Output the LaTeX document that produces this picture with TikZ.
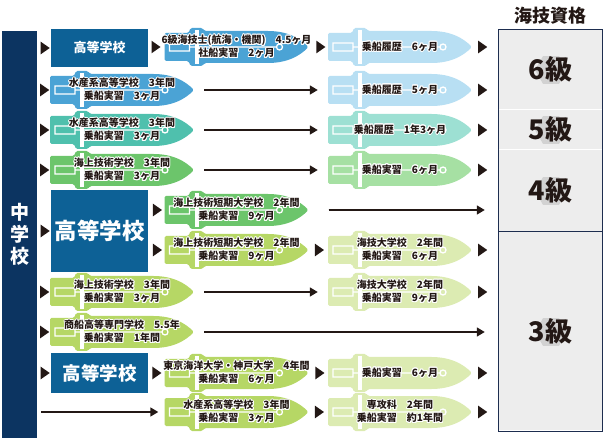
\documentclass[tikz,border=0pt]{standalone}
\usepackage{fontspec}
\setmainfont{Noto Sans CJK JP}
\usepackage[copies]{contour}
\usetikzlibrary{arrows.meta,shapes.geometric,backgrounds}

\contourlength{0.9pt}

\definecolor{ink}{HTML}{231815}
\definecolor{navy}{HTML}{0C3461}
\definecolor{schoolblue}{HTML}{0D6196}
\definecolor{frame}{HTML}{1D2D4F}
\definecolor{panel}{HTML}{EDEDED}
\definecolor{hexgray}{HTML}{D2D2D2}
\definecolor{sea}{HTML}{4BA3D5}
\definecolor{seaL}{HTML}{B8DFF3}
\definecolor{teal}{HTML}{4FC0AD}
\definecolor{tealL}{HTML}{9DE0D3}
\definecolor{grass}{HTML}{6CC56B}
\definecolor{grassL}{HTML}{A6E0A3}
\definecolor{lime}{HTML}{B6D765}
\definecolor{limeL}{HTML}{DCEBB2}

\newcommand{\hw}[1]{\contour{white}{#1}}

% hull behind, named text node on top
\newcommand{\ship}[4]{%
  \begin{scope}[shift={(#2)}]
    \fill[#3, rounded corners=1.5pt] (-72,-14) -- (-48,-14) -- (-46,-19) -- (-34,-19) -- (-32,-16) -- (30,-16)
      .. controls (52,-16) and (64,-8) .. (72,0)
      .. controls (64,8) and (52,16) .. (30,16) -- (-32,16) -- (-34,19) -- (-46,19) -- (-48,14) -- (-72,14) -- cycle;
    \draw[deck] (-67,-4) rectangle (-47,4) (-47,0) -- (40,0) (43,0) circle (3);
    \draw[white, line width=4pt] (-40,-17) -- (-40,17);
  \end{scope}
  \node[shiptext] (#1) at (#2) {#4};
}

\begin{document}
\begin{tikzpicture}[x=1pt, y=-1pt, >={Triangle[length=8pt,width=9pt]},
    flow/.style={->, draw=ink, fill=ink, line width=1.5pt},
    tri/.style={isosceles triangle, isosceles triangle apex angle=70, fill=ink, inner sep=0pt, minimum height=9pt},
    deck/.style={white, line width=1.3pt},
    shiptext/.style={minimum width=144pt, minimum height=32pt, inner sep=0pt, align=center, text=ink,
      font=\fontsize{10}{13}\selectfont\bfseries}]

    \tikzstyle{school}=[fill=schoolblue, text=white, minimum width=97pt, inner sep=0pt]
    \tikzstyle{grade}=[minimum width=103pt, inner sep=0pt, text=ink, font=\fontsize{27}{27}\selectfont\bfseries]
    \tikzstyle{hexa}=[regular polygon, regular polygon sides=6, minimum size=32pt, fill=hexgray, inner sep=0pt]

    \useasboundingbox (0,0) rectangle (608,438);

    % left column
    \node[fill=navy, minimum width=35pt, minimum height=407pt, inner sep=0pt, text=white, align=center,
      font=\fontsize{19}{22}\selectfont\bfseries] (jhs) at (19.5,234.5) {中\\学\\校};

    \node[school, minimum height=38pt, font=\fontsize{13}{13}\selectfont\bfseries] (h1) at (99.5,48)  {高等学校};
    \node[school, minimum height=82pt, font=\fontsize{22.5}{22.5}\selectfont\bfseries] (h5) at (99.5,231) {高等学校};
    \node[school, minimum height=40pt, font=\fontsize{18.5}{18.5}\selectfont\bfseries] (h9) at (99.5,373) {高等学校};

    % ships
    \ship{b1}{236.5,47}{sea}{\hw{6級海技士(航海・機関)　4.5ヶ月}\\\hw{社船実習　2ヶ月}}
    \ship{c1}{400,47}{seaL}{\hw{乗船履歴　6ヶ月}}
    \ship{a2}{122,90}{sea}{\hw{水産系高等学校　3年間}\\\hw{乗船実習　3ヶ月}}
    \ship{c2}{400,90}{seaL}{\hw{乗船履歴　5ヶ月}}
    \ship{a3}{122,130}{teal}{\hw{水産系高等学校　3年間}\\\hw{乗船実習　3ヶ月}}
    \ship{c3}{400,130}{tealL}{\hw{乗船履歴　1年3ヶ月}}
    \ship{a4}{122,170}{grass}{\hw{海上技術学校　3年間}\\\hw{乗船実習　3ヶ月}}
    \ship{c4}{400,170}{grassL}{\hw{乗船実習　6ヶ月}}
    \ship{b5}{236.5,210}{grass}{\hw{海上技術短期大学校　2年間}\\\hw{乗船実習　9ヶ月}}
    \ship{b6}{236.5,250}{lime}{\hw{海上技術短期大学校　2年間}\\\hw{乗船実習　9ヶ月}}
    \ship{c6}{400,250}{limeL}{\hw{海技大学校　2年間}\\\hw{乗船実習　6ヶ月}}
    \ship{a7}{122,292}{lime}{\hw{海上技術学校　3年間}\\\hw{乗船実習　3ヶ月}}
    \ship{c7}{400,292}{limeL}{\hw{海技大学校　2年間}\\\hw{乗船実習　9ヶ月}}
    \ship{a8}{122,332}{lime}{\hw{商船高等専門学校　5.5年}\\\hw{乗船実習　1年間}}
    \ship{b9}{236.5,373}{lime}{\hw{東京海洋大学・神戸大学　4年間}\\\hw{乗船実習　6ヶ月}}
    \ship{c9}{400,373}{limeL}{\hw{乗船実習　6ヶ月}}
    \ship{b10}{236.5,412}{lime}{\hw{水産系高等学校　3年間}\\\hw{乗船実習　3ヶ月}}
    \ship{c10}{400,412}{limeL}{\hw{専攻科　2年間}\\\hw{乗船実習　約1年間}}

    % licence panel
    \node[font=\fontsize{18}{18}\selectfont\bfseries, text=ink] (title) at (550.5,16) {海技資格};
    \fill[panel] (499,30) rectangle (602,430);
    \node[hexa] (x6) at (551,70) {};
    \node[hexa] (x5) at (551,130) {};
    \node[hexa] (x4) at (551,191) {};
    \node[hexa] (x3) at (551,332) {};
    \node[grade, minimum height=79pt]  (g6) at (550.5,69.5) {6級};
    \node[grade, minimum height=40pt]  (g5) at (550.5,129)  {5級};
    \node[grade, minimum height=82pt]  (g4) at (550.5,190)  {4級};
    \node[grade, minimum height=199pt] (g3) at (550.5,331.5) {3級};
    \draw[white, line width=1pt] (g6.south west) -- (g6.south east) (g5.south west) -- (g5.south east);
    \draw[frame, line width=1pt] (g6.north west) rectangle (g4.south east);
    \draw[frame, line width=1pt] (g3.north west) rectangle (g3.south east);

    % small heads
    \path
    (jhs.east |- h1) -- (h1.west) node[tri, midway] {}
    (jhs.east |- a2) -- (a2.west) node[tri, midway] {}
    (jhs.east |- a3) -- (a3.west) node[tri, midway] {}
    (jhs.east |- a4) -- (a4.west) node[tri, midway] {}
    (jhs.east |- h5) -- (h5.west) node[tri, midway] {}
    (jhs.east |- a7) -- (a7.west) node[tri, midway] {}
    (jhs.east |- a8) -- (a8.west) node[tri, midway] {}
    (jhs.east |- h9) -- (h9.west) node[tri, midway] {}
    (h1.east |- b1) -- (b1.west) node[tri, midway] {}
    (h5.east |- b5) -- (b5.west) node[tri, midway] {}
    (h5.east |- b6) -- (b6.west) node[tri, midway] {}
    (h9.east |- b9) -- (b9.west) node[tri, midway] {}
    (b1.east) -- (c1.west) node[tri, midway] {}
    (b6.east) -- (c6.west) node[tri, midway] {}
    (b9.east) -- (c9.west) node[tri, midway] {}
    (b10.east) -- (c10.west) node[tri, midway] {}
    (c1.east) -- (c1.east -| g6.west) node[tri, pos=.35] {}
    (c2.east) -- (c2.east -| g6.west) node[tri, pos=.35] {}
    (c3.east) -- (c3.east -| g5.west) node[tri, pos=.35] {}
    (c4.east) -- (c4.east -| g4.west) node[tri, pos=.35] {}
    (c6.east) -- (c6.east -| g3.west) node[tri, pos=.35] {}
    (c7.east) -- (c7.east -| g3.west) node[tri, pos=.35] {}
    (c9.east) -- (c9.east -| g3.west) node[tri, pos=.35] {}
    (c10.east) -- (c10.east -| g3.west) node[tri, pos=.35] {};

    % long arrows
    \draw[flow, shorten <=10pt, shorten >=10pt] (a2.east) -- (c2.west);
    \draw[flow, shorten <=10pt, shorten >=10pt] (a3.east) -- (c3.west);
    \draw[flow, shorten <=10pt, shorten >=10pt] (a4.east) -- (c4.west);
    \draw[flow, shorten <=10pt, shorten >=10pt] (a7.east) -- (c7.west);
    \draw[flow, shorten <=20pt, shorten >=14pt] (b5.east) -- (b5.east -| g4.west);
    \draw[flow, shorten <=10pt, shorten >=14pt] (a8.east) -- (a8.east -| g3.west);
    \draw[flow, shorten <=4pt, shorten >=6pt] (jhs.east |- b10) -- (b10.west);
\end{tikzpicture}
\end{document}
